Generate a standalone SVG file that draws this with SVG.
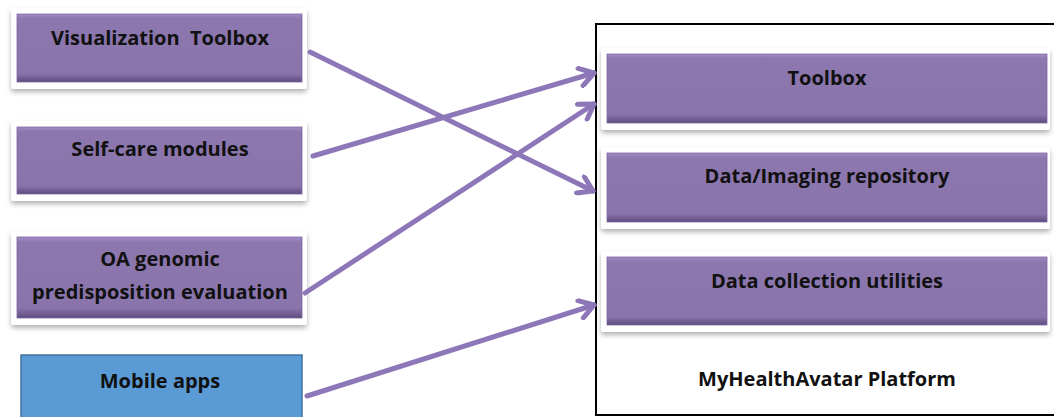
<svg xmlns="http://www.w3.org/2000/svg" width="1054" height="417" viewBox="0 0 1054 417">
<defs>
<linearGradient id="bev" x1="0" y1="0" x2="0" y2="1">
<stop offset="0" stop-color="#A48CC8"/>
<stop offset="0.07" stop-color="#8D77AF"/>
<stop offset="0.88" stop-color="#8A74AC"/>
<stop offset="1" stop-color="#5E4B7D"/>
</linearGradient>
<filter id="sh" x="-10%" y="-20%" width="120%" height="150%">
<feDropShadow dx="0" dy="3" stdDeviation="2.5" flood-color="#000" flood-opacity="0.3"/>
</filter>
<marker id="ah" markerWidth="22" markerHeight="22" refX="18" refY="11" orient="auto" markerUnits="userSpaceOnUse">
<path d="M4,2 L18,11 L4,20" fill="none" stroke="#8E77B8" stroke-width="5" stroke-linecap="round" stroke-linejoin="round"/>
</marker>
</defs>
<style>
.frame{fill:#fff;filter:url(#sh)}
.pb{fill:url(#bev);stroke:#7E68A0;stroke-width:0.8}
.t{font-family:"Open Sans","Liberation Sans",sans-serif;font-weight:700;font-size:20px;fill:#111;text-anchor:middle}
.c{fill:none;stroke:#8E77B8;stroke-width:5;stroke-linecap:round}
</style>
<rect width="1054" height="417" fill="#fff"/>
<g id="platform">
<rect x="596" y="24" width="470" height="391" fill="#fff" stroke="#000" stroke-width="2"/>
<text class="t" x="827" y="386">MyHealthAvatar Platform</text>
</g>
<g id="visualization-toolbox">
<rect class="frame" x="11" y="8" width="296" height="81" rx="3"/>
<rect class="pb" x="17" y="14" width="285" height="68"/>
<text class="t" x="160" y="45" xml:space="preserve">Visualization  Toolbox</text>
</g>
<g id="self-care-modules">
<rect class="frame" x="11" y="121" width="296" height="80" rx="3"/>
<rect class="pb" x="17" y="127" width="285" height="67"/>
<text class="t" x="160" y="156">Self-care modules</text>
</g>
<g id="oa-genomic">
<rect class="frame" x="11" y="231" width="296" height="94" rx="3"/>
<rect class="pb" x="17" y="237" width="285" height="81"/>
<text class="t" x="160" y="266">OA genomic</text>
<text class="t" x="160" y="299">predisposition evaluation</text>
</g>
<g id="mobile-apps">
<rect x="21" y="355" width="281" height="70" fill="#5B9BD5" stroke="#41719C" stroke-width="1.5"/>
<text class="t" x="160" y="388">Mobile apps</text>
</g>
<g id="toolbox">
<rect class="frame" x="601" y="48" width="449" height="82" rx="3"/>
<rect class="pb" x="607" y="54" width="440" height="69"/>
<text class="t" x="827" y="85">Toolbox</text>
</g>
<g id="data-imaging-repository">
<rect class="frame" x="601" y="147" width="449" height="82" rx="3"/>
<rect class="pb" x="607" y="153" width="440" height="69"/>
<text class="t" x="827" y="183">Data/Imaging repository</text>
</g>
<g id="data-collection-utilities">
<rect class="frame" x="601" y="251" width="449" height="81" rx="3"/>
<rect class="pb" x="607" y="257" width="440" height="68"/>
<text class="t" x="827" y="288">Data collection utilities</text>
</g>
<g id="connectors">
<line class="c" x1="310" y1="52" x2="593" y2="191" marker-end="url(#ah)"/>
<line class="c" x1="313" y1="156" x2="594" y2="73" marker-end="url(#ah)"/>
<line class="c" x1="305" y1="293" x2="594" y2="104" marker-end="url(#ah)"/>
<line class="c" x1="307" y1="396" x2="594" y2="305" marker-end="url(#ah)"/>
</g>
</svg>
